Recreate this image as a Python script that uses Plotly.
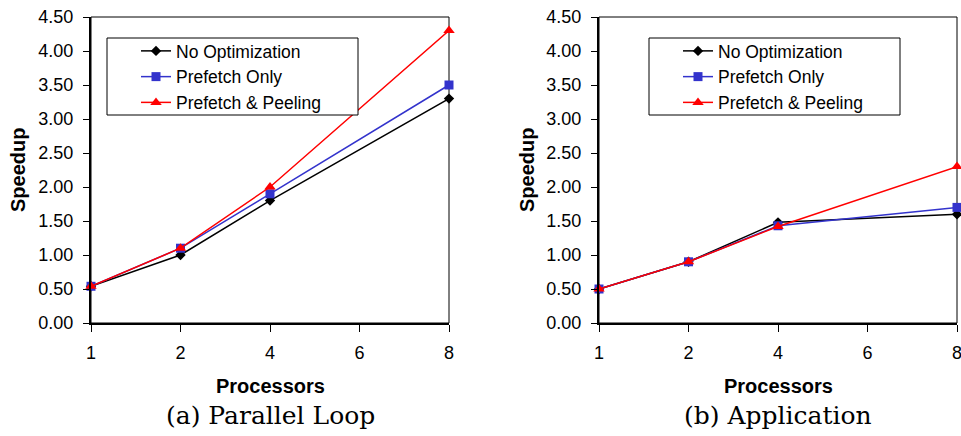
import plotly.graph_objects as go

# ---- data ----
tick_labels = ["1", "2", "4", "6", "8"]
processors = ["1", "2", "4", "8"]
series_names = ["No Optimization", "Prefetch Only", "Prefetch & Peeling"]

loop_no_opt = [0.54, 1.00, 1.80, 3.30]
loop_prefetch = [0.54, 1.10, 1.90, 3.50]
loop_peeling = [0.54, 1.10, 2.00, 4.30]

app_no_opt = [0.50, 0.90, 1.48, 1.60]
app_prefetch = [0.50, 0.90, 1.43, 1.70]
app_peeling = [0.50, 0.90, 1.42, 2.30]

captions = ["(a) Parallel Loop", "(b) Application"]
y_ticks = [0.0, 0.5, 1.0, 1.5, 2.0, 2.5, 3.0, 3.5, 4.0, 4.5]

# ---- styles ----
colors = ["#000000", "#3333CC", "#FF0000"]
symbols = ["diamond", "square", "triangle-up"]
msizes = [8, 9, 10]

W, H = 961, 436
FONT = "Liberation Sans, Arial, sans-serif"

# x positions on the evenly spaced category axis
xpos = [tick_labels.index(p) for p in processors]

fig = go.Figure()

panels = [
    dict(data=[loop_no_opt, loop_prefetch, loop_peeling], xa="x", ya="y", legend="legend"),
    dict(data=[app_no_opt, app_prefetch, app_peeling], xa="x2", ya="y2", legend="legend2"),
]

for pi, p in enumerate(panels):
    for si, vals in enumerate(p["data"]):
        fig.add_trace(go.Scatter(
            x=xpos, y=vals, mode="lines+markers", name=series_names[si],
            xaxis=p["xa"], yaxis=p["ya"], legend=p["legend"],
            legendgroup=f"p{pi}s{si}",
            line=dict(color=colors[si], width=1.5),
            marker=dict(symbol=symbols[si], size=msizes[si], color=colors[si],
                        line=dict(width=0)),
            cliponaxis=False,
        ))

# pixel geometry helpers
def px_x(v):
    return v / W

def px_y(v):
    return 1 - v / H

top, bottom = 17, 323
left_dom = [px_x(91), px_x(449)]
right_dom = [px_x(599), px_x(957)]
ydom = [px_y(bottom), px_y(top)]

axis_common_x = dict(
    range=[0, 4], tickmode="array", tickvals=list(range(len(tick_labels))),
    ticktext=tick_labels, showline=True, linecolor="black", linewidth=2,
    ticks="outside", ticklen=7, tickcolor="black", tickwidth=1,
    showgrid=False, zeroline=False, ticklabelstandoff=5, automargin=False,
    ticklabeloverflow="allow",
    tickfont=dict(family=FONT, size=18, color="black"),
)
axis_common_y = dict(
    range=[0, 4.5], tickmode="array", tickvals=y_ticks, tickformat=".2f",
    showline=True, linecolor="black", linewidth=2,
    ticks="outside", ticklen=6, tickcolor="black", tickwidth=1,
    showgrid=False, zeroline=False, ticklabelstandoff=6, automargin=False,
    ticklabeloverflow="allow",
    tickfont=dict(family=FONT, size=18, color="black"),
)

legend_common = dict(
    xanchor="left", yanchor="top", bgcolor="rgba(0,0,0,0)", borderwidth=0,
    font=dict(family=FONT, size=17.5, color="black"),
    traceorder="grouped", tracegroupgap=0, itemwidth=30,
)

fig.update_layout(
    width=W, height=H, autosize=False,
    margin=dict(l=0, r=0, t=0, b=0, pad=0),
    paper_bgcolor="white", plot_bgcolor="white",
    xaxis=dict(domain=left_dom, anchor="y", **axis_common_x),
    yaxis=dict(domain=ydom, anchor="x", **axis_common_y),
    xaxis2=dict(domain=right_dom, anchor="y2", **axis_common_x),
    yaxis2=dict(domain=ydom, anchor="x2", **axis_common_y),
    legend=dict(x=px_x(136), y=px_y(33), **legend_common),
    legend2=dict(x=px_x(678), y=px_y(33), **legend_common),
    showlegend=True,
)

shapes = []
# thin frame round each plot area and legend boxes
for xa, ya, (lx0, lx1) in [("x", "y", (107, 358)), ("x2", "y2", (649, 900))]:
    shapes.append(dict(type="rect", xref=f"{xa} domain", yref=f"{ya} domain",
                       x0=0, x1=1, y0=0, y1=1, line=dict(color="black", width=1),
                       fillcolor="rgba(0,0,0,0)", layer="below"))
    shapes.append(dict(type="rect", xref="paper", yref="paper",
                       x0=px_x(lx0), x1=px_x(lx1), y0=px_y(38), y1=px_y(115),
                       line=dict(color="black", width=1), fillcolor="white", layer="above"))
fig.update_layout(shapes=shapes)

ann = []
for cx, cap in zip([270, 778], captions):
    ann.append(dict(text="<b>Processors</b>", x=px_x(cx), y=px_y(386), xref="paper", yref="paper",
                    showarrow=False, xanchor="center", yanchor="middle",
                    font=dict(family=FONT, size=20, color="black")))
    ann.append(dict(text=cap, x=px_x(cx), y=px_y(415), xref="paper", yref="paper",
                    showarrow=False, xanchor="center", yanchor="middle",
                    font=dict(family="DejaVu Serif, serif", size=25, color="black")))
for sx in [18, 527]:
    ann.append(dict(text="<b>Speedup</b>", x=px_x(sx), y=px_y(170), xref="paper", yref="paper",
                    showarrow=False, xanchor="center", yanchor="middle", textangle=-90,
                    font=dict(family=FONT, size=20, color="black")))
fig.update_layout(annotations=ann)

# the page's default body margin would shift the figure; remove it
fig.write_html(
    "out.html",
    config={"displayModeBar": False},
    post_script="document.body.style.margin='0';document.body.style.overflow='hidden';",
)
